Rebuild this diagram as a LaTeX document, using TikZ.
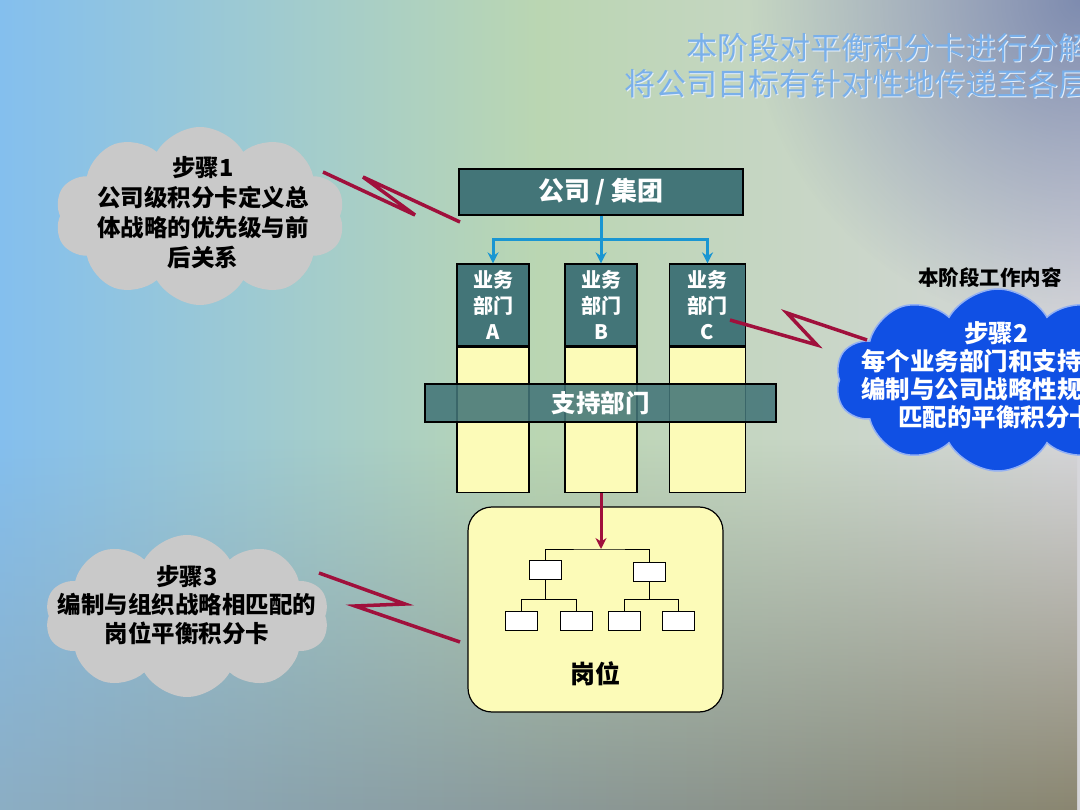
\documentclass[tikz,border=0pt]{standalone}
\usepackage{fontspec}
\setmainfont{Noto Sans CJK SC}
\usetikzlibrary{shapes.symbols, fadings, positioning, arrows.meta, calc}

\definecolor{bgleft}{HTML}{84BFEE}
\definecolor{bgmid}{HTML}{BAD6B2}
\definecolor{bgright}{HTML}{D6D6DA}
\definecolor{bgbotleft}{HTML}{8CAEC4}
\definecolor{bgbrown}{HTML}{B49C76}
\definecolor{bgbotright}{HTML}{8A8670}
\definecolor{bgslate}{HTML}{6F7FA8}
\definecolor{deptteal}{HTML}{437578}
\definecolor{colyellow}{HTML}{FCFBB8}
\definecolor{boltred}{HTML}{A0103C}
\definecolor{feedblue}{HTML}{1A96D2}
\definecolor{cloudgray}{HTML}{C9C9C9}
\definecolor{cloudblue}{HTML}{1050E4}
\definecolor{titleblue}{HTML}{7AB0EA}

\tikzfading[name=fadeout, inner color=transparent!0, outer color=transparent!100]
\tikzfading[name=fadeup, top color=transparent!100, bottom color=transparent!0]

\begin{document}
\begin{tikzpicture}[x=1pt, y=-1pt, >={Stealth[length=11pt, width=11pt]},
    deptbox/.style={draw=black, line width=1.2pt, fill=deptteal, text=white,
        font=\fontsize{20}{26}\selectfont\bfseries, align=center,
        minimum width=72pt, minimum height=82pt, inner sep=0pt},
    colbody/.style={draw=black, line width=1.2pt, fill=colyellow,
        minimum width=72pt, minimum height=145pt, inner sep=0pt},
    bolt/.style={draw=boltred, line width=3.5pt, line join=miter},
    feed/.style={draw=feedblue, line width=3pt},
    orgbox/.style={draw=black, line width=1pt, fill=white,
        minimum width=32pt, minimum height=19pt, inner sep=0pt},
    orgline/.style={draw=black, line width=1pt},
    stepcloud/.style={cloud, cloud puffs=10, cloud puff arc=120, cloud ignores aspect,
        fill=cloudgray, inner sep=0pt},
    steptext/.style={align=center, font=\fontsize{23.5}{30}\selectfont\bfseries}]

\clip (0,0) rectangle (1080,810);
\useasboundingbox (0,0) rectangle (1080,810);

% background
\shade[left color=bgleft, right color=bgright, middle color=bgmid] (0,0) rectangle (1080,810);
\shade[left color=bgbotleft, middle color=bgbrown, right color=bgbotright, path fading=fadeup]
    (0,440) rectangle (1080,810);
\fill[bgslate, path fading=fadeout, fill opacity=.85] (1080,0) circle (330);

% title
\node[anchor=east, align=right, text=white!80!titleblue, font=\fontsize{31}{36}\selectfont]
    (titleshade) at (1094,67) {本阶段对平衡积分卡进行分解\\将公司目标有针对性地传递至各层};
\node[anchor=east, align=right, text=titleblue, font=\fontsize{31}{36}\selectfont]
    (title) at (1093,66) {本阶段对平衡积分卡进行分解\\将公司目标有针对性地传递至各层};

% company and business units
\node[deptbox, minimum width=284pt, minimum height=46pt, font=\fontsize{26}{30}\selectfont\bfseries]
    (company) at (601,192) {公司 / 集团};

\node[deptbox] (deptA) at (493,305) {业务\\部门\\A};
\node[deptbox] (deptB) at (601,305) {业务\\部门\\B};
\node[deptbox, minimum width=76pt] (deptC) at (707.5,305) {业务\\部门\\C};
\node[colbody, below=0pt of deptA] (bodyA) {};
\node[colbody, below=0pt of deptB] (bodyB) {};
\node[colbody, minimum width=76pt, below=0pt of deptC] (bodyC) {};

\coordinate (hub) at (601,240);
\draw[feed] (company.south) -- (hub);
\draw[feed, ->] (hub) -| (deptA.north);
\draw[feed, ->] (hub) -- (deptB.north);
\draw[feed, ->] (hub) -| (deptC.north);

\node[draw=black, line width=1.2pt, fill=deptteal, fill opacity=.88, text opacity=1, text=white,
    minimum width=351pt, minimum height=38pt, inner sep=0pt,
    font=\fontsize{24.5}{28}\selectfont\bfseries] (support) at (600.5,403) {支持部门};

% positions
\node[draw=black, line width=1.2pt, fill=colyellow, rounded corners=24pt,
    minimum width=255pt, minimum height=205pt] (job) at (595.5,609.5) {};
\node[font=\fontsize{25}{28}\selectfont\bfseries] (joblabel) at (595.5,674) {岗位};

\node[orgbox] (o1) at (545,569.5) {};
\node[orgbox] (o2) at (649,571.5) {};
\node[orgbox] (o11) at (521.5,621) {};
\node[orgbox] (o12) at (576,621) {};
\node[orgbox] (o21) at (624.5,621) {};
\node[orgbox] (o22) at (678.5,621) {};
\coordinate (orgtop) at (601,549);
\draw[orgline] (o1.north) |- (orgtop) -| (o2.north);
\draw[orgline] (o11.north) |- ($(o1.south)+(0,20)$) -| (o12.north);
\draw[orgline] (o1.south) -- ++(0,20);
\draw[orgline] (o21.north) |- ($(o2.south)+(0,18)$) -| (o22.north);
\draw[orgline] (o2.south) -- ++(0,18);

\draw[draw=boltred, line width=3pt, ->] (bodyB.south) -- (orgtop);

% steps
\node[stepcloud, minimum width=290pt, minimum height=178pt] (cloud1) at (200,216) {};
\node[steptext] (step1) at (203,213) {步骤1\\公司级积分卡定义总\\体战略的优先级与前\\后关系};

\node[stepcloud, minimum width=284pt, minimum height=162pt] (cloud3) at (187,616) {};
\node[steptext, font=\fontsize{23.5}{28.5}\selectfont\bfseries] (step3) at (187,605)
    {步骤3\\编制与组织战略相匹配的\\岗位平衡积分卡};

\node[font=\fontsize{20.5}{24}\selectfont\bfseries] (stagelabel) at (990,278) {本阶段工作内容};
\node[stepcloud, fill=cloudblue, draw=white!55!cloudblue, line width=1.5pt,
    minimum width=325pt, minimum height=182pt] (cloud2) at (998,380) {};
\node[steptext, text=white, font=\fontsize{24.5}{28}\selectfont\bfseries] (step2) at (996,375)
    {步骤2\\每个业务部门和支持部门\\编制与公司战略性规划相\\匹配的平衡积分卡};

% links
\coordinate (b1s) at (323,172);
\coordinate (b1e) at (460,222);
\draw[bolt] (b1s) -- (415,215) -- (363,177) -- (b1e);
\coordinate (b2s) at (730,320);
\coordinate (b2e) at (867,340);
\draw[bolt] (b2s) -- (817,345) -- (787,313) -- (b2e);
\coordinate (b3s) at (319,573);
\coordinate (b3e) at (460,642);
\draw[bolt] (b3s) -- (405,604) -- (355,606) -- (b3e);
\end{tikzpicture}
\end{document}
